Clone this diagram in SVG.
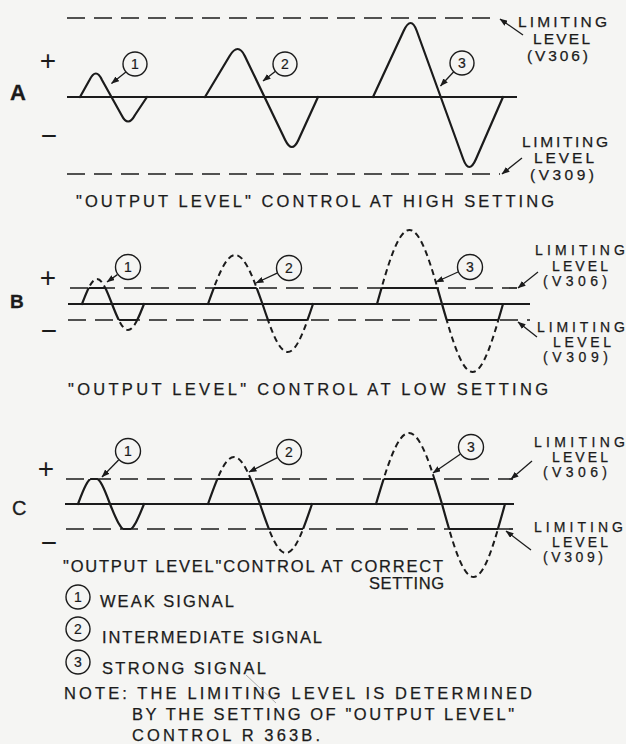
<svg xmlns="http://www.w3.org/2000/svg" xmlns:xlink="http://www.w3.org/1999/xlink" width="626" height="744" viewBox="0 0 626 744">
<style>
  .wave{stroke:#1b1b1b;stroke-width:2.2;fill:none;stroke-linejoin:round;stroke-linecap:round}
  .dash{stroke:#1b1b1b;stroke-width:2;fill:none;stroke-dasharray:6 4}
  .base{stroke:#1b1b1b;stroke-width:2;fill:none}
  .lim{stroke:#1b1b1b;stroke-width:1.7;fill:none;stroke-dasharray:18 9}
  .flat{stroke:#1b1b1b;stroke-width:2.2;fill:none}
  .lead{stroke:#1b1b1b;stroke-width:1.3;fill:none;marker-end:url(#ah)}
  .circ{stroke:#1b1b1b;stroke-width:1.4;fill:none}
  text{font-family:"Liberation Sans",Arial,sans-serif;fill:#1b1b1b;stroke:#1b1b1b;stroke-width:0.25}
  .t{font-size:16.5px}
  .l{font-size:14px}
  .la{font-size:15.5px}
  .num{font-size:14px;text-anchor:middle;stroke-width:0.2}
  .sign{font-size:28px;text-anchor:middle;stroke-width:0}
  .pan{font-weight:bold;stroke-width:0.3}
</style>
<defs>
  <marker id="ah" markerUnits="userSpaceOnUse" markerWidth="8" markerHeight="6" viewBox="0 0 8 6" refX="7.5" refY="3" orient="auto">
    <path d="M0,0 L8,3 L0,6 Z" fill="#1b1b1b"/>
  </marker>
  <clipPath id="bIn" clipPathUnits="userSpaceOnUse"><rect x="0" y="-16" width="626" height="32"/></clipPath>
  <clipPath id="bOut" clipPathUnits="userSpaceOnUse"><rect x="0" y="-200" width="626" height="184"/><rect x="0" y="16" width="626" height="200"/></clipPath>
  <clipPath id="cIn" clipPathUnits="userSpaceOnUse"><rect x="0" y="-25" width="626" height="50"/></clipPath>
  <clipPath id="cOut" clipPathUnits="userSpaceOnUse"><rect x="0" y="-200" width="626" height="175"/><rect x="0" y="25" width="626" height="200"/></clipPath>
  <path id="wB1" d="M82,0 C86.9,-12.8 91.6,-25 97,-25 C102.4,-25 107.1,-12.8 112,0 C117.2,13.3 122.2,26 128,26 C133.8,26 138.8,13.3 144,0"/>
  <path id="wB2" d="M208,0 C216.9,-25.1 225.4,-49 235.25,-49 C245.1,-49 253.6,-25.1 262.5,0 C270.7,24.6 278.6,48 287.75,48 C296.9,48 304.8,24.6 313,0"/>
  <path id="wB3" d="M377,0 C387.6,-37.9 397.7,-74 409.5,-74 C421.3,-74 431.4,-37.9 442,0 C452,34.8 461.5,68 472.5,68 C483.5,68 493.1,34.8 503,0"/>
  <path id="wC1" d="M78,0 C83.2,-13.8 88.2,-27 94,-27 C99.8,-27 104.8,-13.8 110,0 C115.5,13.8 120.9,27 127,27 C133.2,27 138.5,13.8 144,0"/>
  <path id="wC2" d="M208,0 C216.5,-24.1 224.6,-47 234,-47 C243.4,-47 251.5,-24.1 260,0 C268.5,25.1 276.6,49 286,49 C295.4,49 303.5,25.1 312,0"/>
  <path id="wC3" d="M376,0 C386.8,-36.4 397.1,-71 409,-71 C420.9,-71 431.2,-36.4 442,0 C452.3,37.4 462.1,73 473.5,73 C484.9,73 494.7,37.4 505,0"/>
</defs>
<rect x="0" y="0" width="626" height="744" fill="#f5f5f3"/>

<!-- PANEL A -->
<g id="panel-a">
  <text class="pan" x="10" y="100" style="font-size:22px">A</text>
  <text class="sign" x="48" y="70">+</text>
  <text class="sign" x="49" y="145">−</text>
  <line class="lim" x1="67" y1="18" x2="497" y2="18"/>
  <line class="base" x1="67" y1="97" x2="517" y2="97"/>
  <line class="lim" x1="67" y1="174" x2="500" y2="174"/>
  <g id="a-wave1" transform="translate(0,97)"><path class="wave" d="M80,0 L89.5,-17 Q96,-30 102,-17 L121.5,18 Q128,31 135,18 L147,0"/></g>
  <g id="a-wave2" transform="translate(0,97)"><path class="wave" d="M205,0 L229.6,-41 Q238,-55 244.8,-41 L285.2,43 Q292,57 298.4,43 L318,0"/></g>
  <g id="a-wave3" transform="translate(0,97)"><path class="wave" d="M373,0 L403.6,-66 Q411,-82 416.8,-66 L463.2,62 Q469,78 476,62 L503,0"/></g>
  <g id="a-tag1"><circle class="circ" cx="135" cy="64" r="12"/><text class="num" x="135" y="69">1</text></g>
  <g id="a-tag2"><circle class="circ" cx="285" cy="64" r="12"/><text class="num" x="285" y="69">2</text></g>
  <g id="a-tag3"><circle class="circ" cx="462" cy="63" r="12"/><text class="num" x="462" y="68">3</text></g>
  <g id="a-lim-up">
    <text class="la" x="518" y="27" textLength="89" lengthAdjust="spacing">LIMITING</text>
    <text class="la" x="533" y="44" textLength="57" lengthAdjust="spacing">LEVEL</text>
    <text class="la" x="527" y="61" textLength="61" lengthAdjust="spacing">(V306)</text>
  </g>
  <g id="a-lim-dn">
    <text class="la" x="522" y="147" textLength="86" lengthAdjust="spacing">LIMITING</text>
    <text class="la" x="534" y="163" textLength="60" lengthAdjust="spacing">LEVEL</text>
    <text class="la" x="530" y="180" textLength="64" lengthAdjust="spacing">(V309)</text>
  </g>
  <text class="t" x="76" y="207" textLength="478" lengthAdjust="spacing">"OUTPUT LEVEL" CONTROL  AT HIGH SETTING</text>
</g>

<!-- PANEL B -->
<g id="panel-b">
  <text class="pan" x="10" y="308" style="font-size:19px">B</text>
  <text class="sign" x="48" y="287">+</text>
  <text class="sign" x="49" y="340">−</text>
  <line class="lim" x1="70" y1="288" x2="517" y2="288"/>
  <line class="base" x1="68" y1="304" x2="530" y2="304"/>
  <line class="lim" x1="68" y1="320" x2="530" y2="320"/>
  <g id="b-wave1" transform="translate(0,304)">
    <use xlink:href="#wB1" class="dash" clip-path="url(#bOut)"/>
    <use xlink:href="#wB1" class="wave" clip-path="url(#bIn)"/>
    <path class="flat" d="M88.6,-16 H105.4 M118.75,16 H137.25"/>
  </g>
  <g id="b-wave2" transform="translate(0,304)">
    <use xlink:href="#wB2" class="dash" clip-path="url(#bOut)"/>
    <use xlink:href="#wB2" class="wave" clip-path="url(#bIn)"/>
    <path class="flat" d="M213.8,-16 H256.7 M268,16 H307.5"/>
  </g>
  <g id="b-wave3" transform="translate(0,304)">
    <use xlink:href="#wB3" class="dash" clip-path="url(#bOut)"/>
    <use xlink:href="#wB3" class="wave" clip-path="url(#bIn)"/>
    <path class="flat" d="M381.5,-16 H437.5 M446.6,16 H498.4"/>
  </g>
  <g id="b-tag1"><circle class="circ" cx="128" cy="267" r="12.5"/><text class="num" x="128" y="272">1</text></g>
  <g id="b-tag2"><circle class="circ" cx="289" cy="268" r="12.5"/><text class="num" x="289" y="273">2</text></g>
  <g id="b-tag3"><circle class="circ" cx="470" cy="267" r="12.5"/><text class="num" x="470" y="272">3</text></g>
  <g id="b-lim-up">
    <text class="l" x="535" y="255" textLength="90" lengthAdjust="spacing">LIMITING</text>
    <text class="l" x="552" y="271" textLength="56" lengthAdjust="spacing">LEVEL</text>
    <text class="l" x="543" y="286" textLength="64" lengthAdjust="spacing">(V306)</text>
  </g>
  <g id="b-lim-dn">
    <text class="l" x="537" y="332" textLength="88" lengthAdjust="spacing">LIMITING</text>
    <text class="l" x="553" y="347" textLength="58" lengthAdjust="spacing">LEVEL</text>
    <text class="l" x="543" y="362" textLength="65" lengthAdjust="spacing">(V309)</text>
  </g>
  <text class="t" x="68" y="395" textLength="480" lengthAdjust="spacing">"OUTPUT LEVEL" CONTROL  AT  LOW SETTING</text>
</g>

<!-- PANEL C -->
<g id="panel-c">
  <text x="12" y="515" style="font-size:20px;stroke-width:0.3">C</text>
  <text class="sign" x="46" y="478">+</text>
  <text class="sign" x="49" y="552">−</text>
  <line class="lim" x1="66" y1="479" x2="513" y2="479"/>
  <line class="base" x1="65" y1="504" x2="514" y2="504"/>
  <line class="lim" x1="66" y1="529" x2="513" y2="529"/>
  <g id="c-wave1" transform="translate(0,504)">
    <use xlink:href="#wC1" class="wave" clip-path="url(#cIn)"/>
    <path class="flat" d="M90.1,-25 H97.9 M122.8,25 H131.2"/>
  </g>
  <g id="c-wave2" transform="translate(0,504)">
    <use xlink:href="#wC2" class="dash" clip-path="url(#cOut)"/>
    <use xlink:href="#wC2" class="wave" clip-path="url(#cIn)"/>
    <path class="flat" d="M217.3,-25 H250.7 M268.9,25 H303.1"/>
  </g>
  <g id="c-wave3" transform="translate(0,504)">
    <use xlink:href="#wC3" class="dash" clip-path="url(#cOut)"/>
    <use xlink:href="#wC3" class="wave" clip-path="url(#cIn)"/>
    <path class="flat" d="M383.6,-25 H434.4 M449,25 H498"/>
  </g>
  <g id="c-tag1"><circle class="circ" cx="128" cy="451" r="12.5"/><text class="num" x="128" y="456">1</text></g>
  <g id="c-tag2"><circle class="circ" cx="289" cy="452" r="12.5"/><text class="num" x="289" y="457">2</text></g>
  <g id="c-tag3"><circle class="circ" cx="471" cy="447" r="12.5"/><text class="num" x="471" y="452">3</text></g>
  <g id="c-lim-up">
    <text class="l" x="534" y="447" textLength="91" lengthAdjust="spacing">LIMITING</text>
    <text class="l" x="552" y="462" textLength="56" lengthAdjust="spacing">LEVEL</text>
    <text class="l" x="543" y="477" textLength="64" lengthAdjust="spacing">(V306)</text>
  </g>
  <g id="c-lim-dn">
    <text class="l" x="534" y="532" textLength="89" lengthAdjust="spacing">LIMITING</text>
    <text class="l" x="552" y="547" textLength="56" lengthAdjust="spacing">LEVEL</text>
    <text class="l" x="543" y="562" textLength="60" lengthAdjust="spacing">(V309)</text>
  </g>
  <text class="t" x="63" y="572" textLength="380" lengthAdjust="spacing">"OUTPUT LEVEL"CONTROL AT CORRECT</text>
  <text class="t" x="369" y="589" textLength="75" lengthAdjust="spacing">SETTING</text>
</g>

<!-- LEGEND -->
<g id="legend">
  <g id="leg1"><circle class="circ" cx="78" cy="597" r="12"/><text class="num" x="78" y="602">1</text>
    <text class="t" x="100" y="607" textLength="134" lengthAdjust="spacing">WEAK SIGNAL</text></g>
  <g id="leg2"><circle class="circ" cx="78" cy="629" r="12"/><text class="num" x="78" y="634">2</text>
    <text class="t" x="102" y="643" textLength="220" lengthAdjust="spacing">INTERMEDIATE SIGNAL</text></g>
  <g id="leg3"><circle class="circ" cx="78" cy="662" r="12"/><text class="num" x="78" y="667">3</text>
    <text class="t" x="102" y="674" textLength="164" lengthAdjust="spacing">STRONG SIGNAL</text></g>
  <g id="note">
    <text class="t" x="64" y="699" textLength="468" lengthAdjust="spacing">NOTE: THE LIMITING LEVEL IS DETERMINED</text>
    <text class="t" x="132" y="720" textLength="382" lengthAdjust="spacing">BY THE SETTING OF "OUTPUT LEVEL"</text>
    <text class="t" x="132" y="741" textLength="188" lengthAdjust="spacing">CONTROL  R 363B.</text>
  </g>
  <line x1="246" y1="675" x2="276" y2="703" stroke="#9a9a9a" stroke-width="0.8"/>
</g>

<!-- CONNECTORS (leader arrows) -->
<g id="connectors">
  <path class="lead" d="M125.9,71.9 L111.5,83.5"/>
  <path class="lead" d="M275.5,71.3 L263,81"/>
  <path class="lead" d="M453.7,71.7 L440.5,86"/>
  <path class="lead" d="M523,35 L500,19"/>
  <path class="lead" d="M522,158 L502,174"/>
  <path class="lead" d="M117.4,274.6 L107,282"/>
  <path class="lead" d="M277.1,273.2 L256,283"/>
  <path class="lead" d="M458,272 L436,282"/>
  <path class="lead" d="M538,272 L518,288"/>
  <path class="lead" d="M537,337 L518,322"/>
  <path class="lead" d="M118.6,460 L102,477"/>
  <path class="lead" d="M277.3,457.7 L249,472"/>
  <path class="lead" d="M460.2,454.2 L433,473"/>
  <path class="lead" d="M532,461 L511,479"/>
  <path class="lead" d="M531,550 L506,531"/>
</g>
</svg>
